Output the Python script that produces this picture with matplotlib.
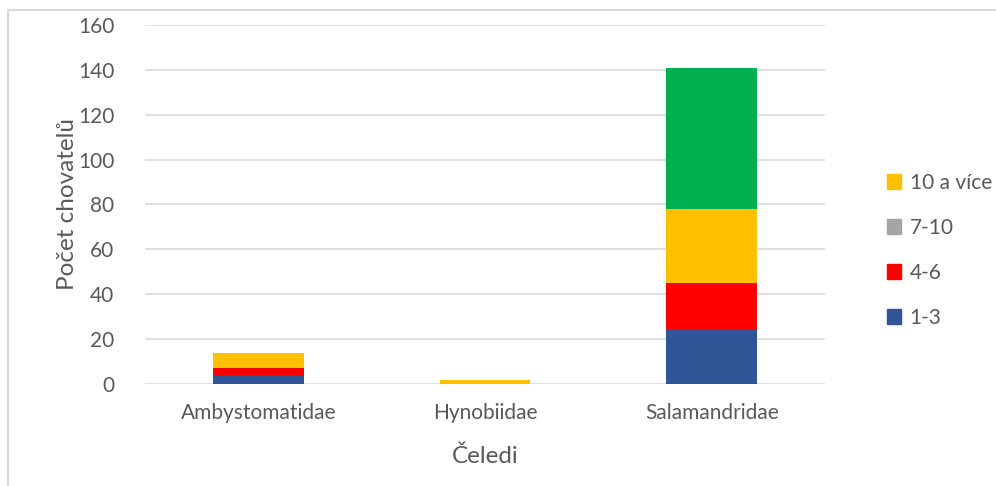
import numpy as np
import matplotlib.pyplot as plt
from matplotlib.patches import Rectangle

families = ["Ambystomatidae", "Hynobiidae", "Salamandridae"]
s_1_3 = [4, 0, 24]
s_4_6 = [3, 0, 21]
s_7_10 = [0, 0, 0]
s_10_plus = [7, 2, 33]
s_other = [0, 0, 63]

plt.rcParams['font.family'] = ['Lato', 'DejaVu Sans']
txt = "#595959"

fig = plt.figure(figsize=(9.96, 4.86), dpi=100)
ax = fig.add_axes([145/996, 1 - 384/486, 680/996, 359/486])

x = np.arange(len(families))
w = 0.4
bottom = np.zeros(len(families))
series = [(s_1_3, "1-3", "#2f5597"), (s_4_6, "4-6", "#ff0000"),
          (s_7_10, "7-10", "#a5a5a5"), (s_10_plus, "10 a více", "#ffc000"),
          (s_other, "_nolegend_", "#00b050")]
handles = []
for vals, lab, col in series:
    vals = np.array(vals, dtype=float)
    ax.bar(x, vals, w, bottom=bottom, color=col, zorder=3)
    bottom += vals
    if lab != "_nolegend_":
        handles.append((Rectangle((0, 0), 1, 1, color=col), lab))

ax.set_xlim(-0.5, 2.5)
ax.set_ylim(0, 160)
ax.set_yticks(range(0, 161, 20))
ax.set_xticks(x)
ax.set_xticklabels(families)
ax.yaxis.grid(True, color="#d9d9d9", linewidth=1.2, zorder=0)
for s in ax.spines.values():
    s.set_visible(False)
ax.tick_params(length=0, labelsize=15, colors=txt, pad=22)
ax.tick_params(axis="x", pad=14)
ax.set_ylabel("Počet chovatelů", fontsize=17.5, color=txt, labelpad=0)
ax.set_xlabel("Čeledi", fontsize=17.5, color=txt, labelpad=16)

handles = handles[::-1]
ax.legend([h for h, l in handles], [l for h, l in handles], loc="center left",
          bbox_to_anchor=(868/996, 1 - 250/486), bbox_transform=fig.transFigure,
          frameon=False, fontsize=15, labelcolor=txt, handlelength=0.7,
          handleheight=0.7, handletextpad=0.4, labelspacing=1.2)

# chart border (left and top lines)
fig.add_artist(plt.Line2D([8/996, 8/996], [0, 1 - 10/486], color="#d9d9d9", linewidth=1.5))
fig.add_artist(plt.Line2D([8/996, 1], [1 - 10/486, 1 - 10/486], color="#d9d9d9", linewidth=1.5))

plt.savefig("out.png", dpi=100)
